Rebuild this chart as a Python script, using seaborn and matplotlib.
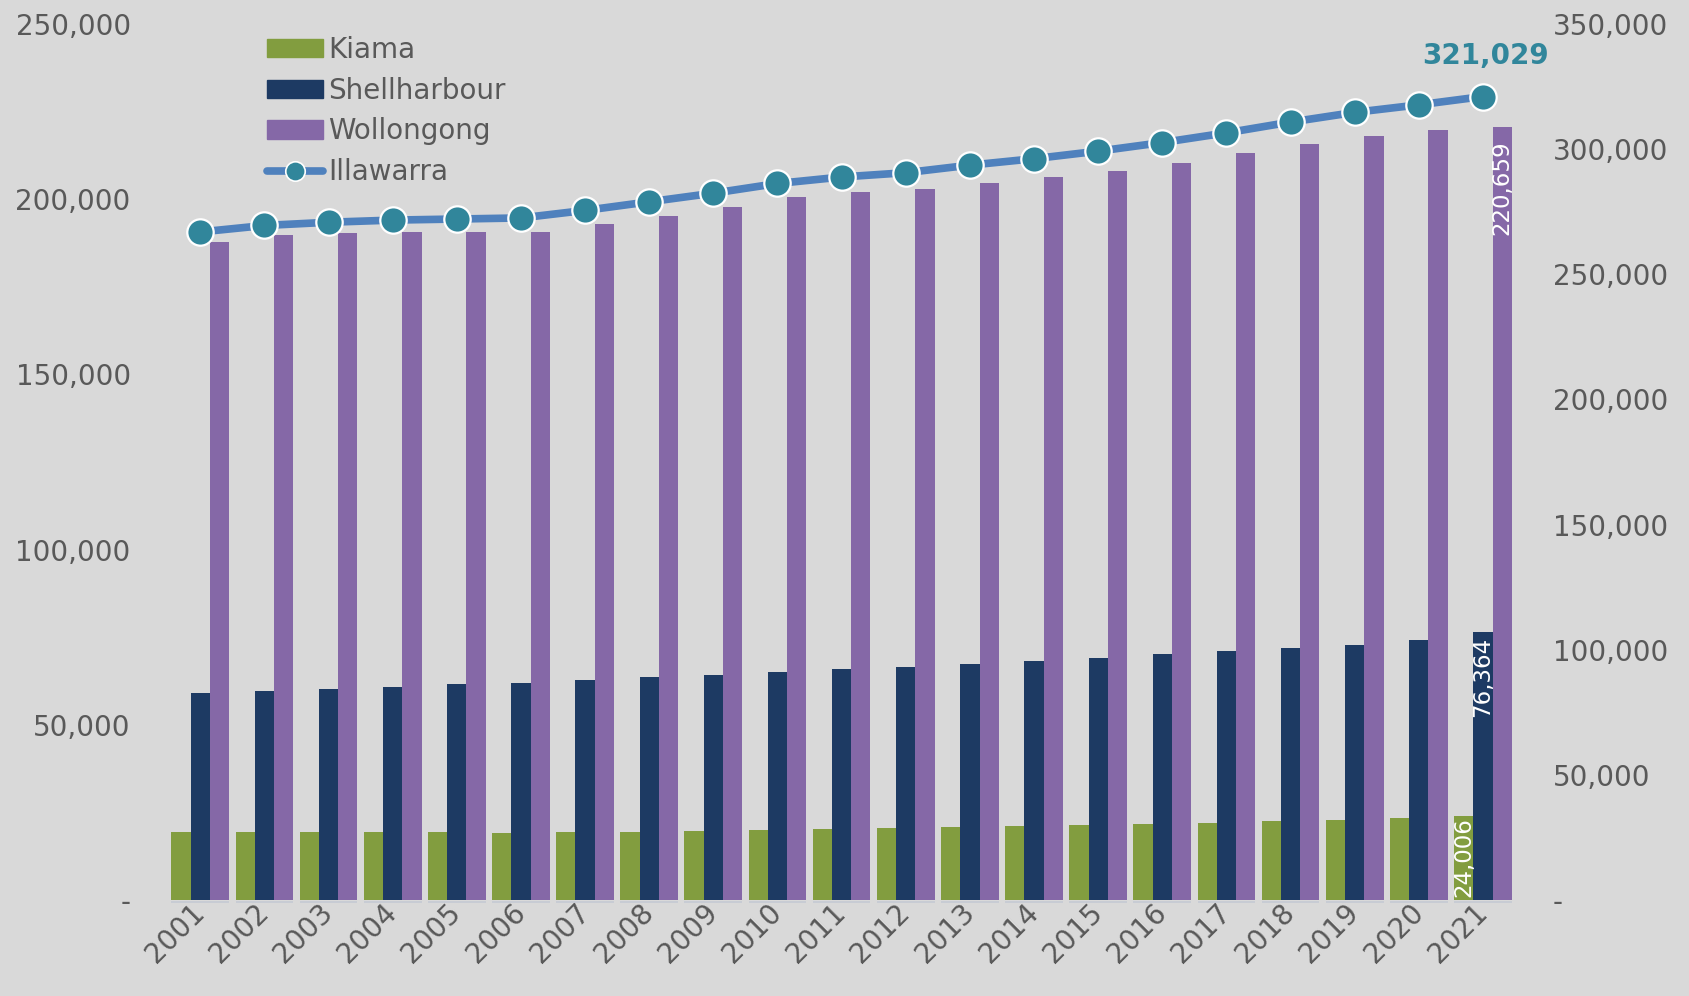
import matplotlib
matplotlib.use("Agg")
import matplotlib.pyplot as plt
import matplotlib.patches as mpatches
import matplotlib.lines as mlines
import seaborn as sns
import pandas as pd
from matplotlib.ticker import FuncFormatter, MultipleLocator

years = [str(y) for y in range(2001, 2022)]
kiama = [19373, 19350, 19330, 19320, 19300, 19065, 19330, 19450, 19680, 19988,
         20295, 20603, 20910, 21218, 21525, 21600, 21833, 22448, 22755, 23370, 24006]
shellharbour = [59041, 59656, 60271, 60886, 61501, 61808, 62731, 63653, 64268, 65191,
                65806, 66421, 67343, 68266, 69188, 70111, 71033, 71956, 72878, 74108, 76364]
wollongong = [187884, 189729, 190344, 190652, 190652, 190700, 192804, 195264, 197724, 200492,
              202030, 202952, 204490, 206335, 208180, 210332, 213100, 215867, 218020, 219865, 220659]
illawarra = [266913, 269496, 270787, 271648, 272079, 272509, 275523, 278967, 282411, 286285,
             288868, 290590, 293604, 296187, 299200, 302644, 306519, 310824, 314699, 317712, 321029]
councils = ["Kiama", "Shellharbour", "Wollongong"]

BG = "#D9D9D9"
TXT = "#595959"
bar_colors = ["#829D3F", "#1D3A63", "#8568A7"]
line_color = "#4F81BD"
marker_color = "#31869B"

df = pd.DataFrame({"year": years, "Kiama": kiama, "Shellharbour": shellharbour,
                   "Wollongong": wollongong, "Illawarra": illawarra})
long = df.melt(id_vars="year", value_vars=councils, var_name="council", value_name="value")

sns.set_theme(style="white")
plt.rcParams["font.family"] = ["DejaVu Sans"]

fig = plt.figure(figsize=(16.9, 9.96), dpi=100, facecolor=BG)
ax = fig.add_axes([0.0995, 0.0964, 0.797, 0.8795])
ax.set_facecolor(BG)

sns.barplot(data=long, x="year", y="value", hue="council", hue_order=councils,
            palette=bar_colors, saturation=1, width=0.9, gap=0, linewidth=0,
            errorbar=None, legend=False, ax=ax)
ax.set_ylim(0, 250000)
ax.set_xlim(-0.5, len(years) - 0.5)
ax.yaxis.set_major_locator(MultipleLocator(50000))
fmt = FuncFormatter(lambda v, p: "-" if v == 0 else f"{int(v):,}")
ax.yaxis.set_major_formatter(fmt)
ax.set_xlabel("")
ax.set_ylabel("")
for s in ["top", "right", "left", "bottom"]:
    ax.spines[s].set_visible(False)
ax.tick_params(axis="y", length=0, pad=27, labelsize=20, labelcolor=TXT)
ax.tick_params(axis="x", length=0, pad=6, labelsize=20, labelcolor=TXT)
for lab in ax.get_xticklabels():
    lab.set_rotation(45)
    lab.set_ha("right")
    lab.set_va("center")
    lab.set_rotation_mode("anchor")

# faint baseline under each bar group
for i in range(len(years)):
    ax.plot([i - 0.45, i + 0.45], [-600, -600], color="#C5CAD4", lw=1.2,
            solid_capstyle="butt", clip_on=False, zorder=1)

ax2 = ax.twinx()
sns.pointplot(data=df, x="year", y="Illawarra", ax=ax2, color=line_color,
              markers="o", linestyles="-", errorbar=None,
              markersize=19, linewidth=5.5, markerfacecolor=marker_color,
              markeredgecolor="white", markeredgewidth=1.6)
ax2.set_ylim(0, 350000)
ax2.set_xlim(-0.5, len(years) - 0.5)
ax2.yaxis.set_major_locator(MultipleLocator(50000))
ax2.yaxis.set_major_formatter(fmt)
ax2.set_ylabel("")
ax2.set_xlabel("")
for s in ["top", "right", "left", "bottom"]:
    ax2.spines[s].set_visible(False)
ax2.tick_params(axis="y", length=0, pad=27, labelsize=20, labelcolor=TXT)
ax2.tick_params(axis="x", length=0, labelbottom=False)
ax2.grid(False)
ax.grid(False)

# data labels for the last year
offs = {1: 3, 2: 10}
for i, cont in enumerate(ax.containers):
    bar = cont.patches[-1]
    xc = bar.get_x() + bar.get_width() / 2
    h = bar.get_height()
    txt = f"{int(round(h)):,}"
    if i == 0:
        ax.annotate(txt, (xc, 0), xytext=(0, 2), textcoords="offset points",
                    rotation=90, ha="center", va="bottom", color="white", fontsize=16.5)
    else:
        ax.annotate(txt, (xc, h), xytext=(0, -offs[i]), textcoords="offset points",
                    rotation=90, ha="center", va="top", color="white", fontsize=16.5)

line = ax2.lines[0]
xs, ys = line.get_xdata(), line.get_ydata()
ax2.annotate(f"{int(ys[-1]):,}", (xs[-1], ys[-1]), xytext=(2, 29), textcoords="offset points",
             ha="center", va="center", color=marker_color, fontsize=20, fontweight="bold")

hs = [mpatches.Patch(color=c) for c in bar_colors]
hs.append(mlines.Line2D([], [], color=line_color, linewidth=5.5, marker="o", markersize=14,
                        markerfacecolor=marker_color, markeredgecolor="white", markeredgewidth=1.2))
leg = fig.legend(hs, councils + ["Illawarra"], loc="upper left",
                 bbox_to_anchor=(0.158, 0.964), frameon=False, fontsize=20,
                 handlelength=2.0, handleheight=0.65, handletextpad=0.2,
                 labelspacing=0.46, borderpad=0, borderaxespad=0)
for t in leg.get_texts():
    t.set_color(TXT)

fig.savefig("out.png", dpi=100, facecolor=BG)
